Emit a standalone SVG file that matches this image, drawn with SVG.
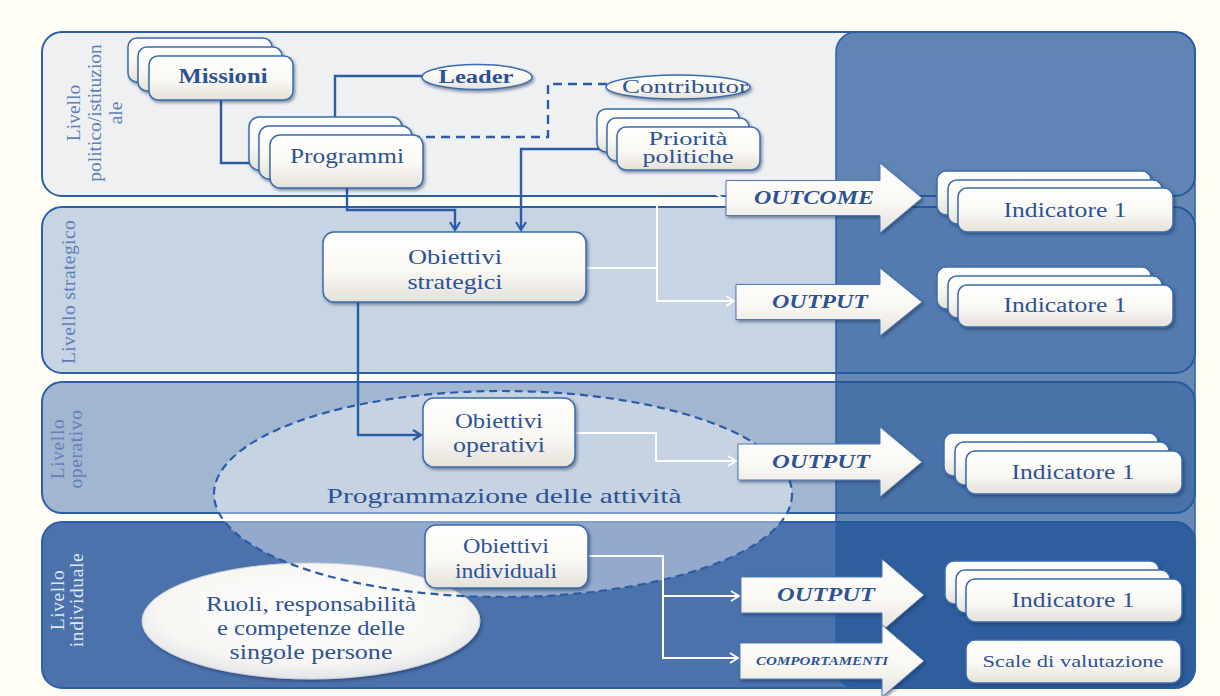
<svg xmlns="http://www.w3.org/2000/svg" width="1220" height="696" viewBox="0 0 1220 696">
  <defs>
    <linearGradient id="boxFill" x1="0" y1="0" x2="0" y2="1">
      <stop offset="0" stop-color="#ffffff"/>
      <stop offset="0.55" stop-color="#faf8f3"/>
      <stop offset="1" stop-color="#e4e1da"/>
    </linearGradient>
    <radialGradient id="ovalFill" cx="0.5" cy="0.42" r="0.62">
      <stop offset="0" stop-color="#ffffff"/>
      <stop offset="0.72" stop-color="#f7f6f3"/>
      <stop offset="1" stop-color="#dfe0e5"/>
    </radialGradient>
    <filter id="shadow" x="-10%" y="-20%" width="130%" height="170%">
      <feDropShadow dx="1.5" dy="2" stdDeviation="1.6" flood-color="#0e2650" flood-opacity="0.5"/>
    </filter>
    <marker id="ahBlue" viewBox="0 0 12 12" refX="10" refY="6" markerWidth="12" markerHeight="12" markerUnits="userSpaceOnUse" orient="auto">
      <path d="M2,1 L10,6 L2,11" fill="none" stroke="#2d5ca6" stroke-width="2.2"/>
    </marker>
    <marker id="ahWhite" viewBox="0 0 12 12" refX="10" refY="6" markerWidth="12" markerHeight="12" markerUnits="userSpaceOnUse" orient="auto">
      <path d="M2,1 L10,6 L2,11" fill="none" stroke="#ffffff" stroke-width="1.8"/>
    </marker>
  </defs>
  <style>
    .band { stroke:#2c5fa8; stroke-width:2 }
    .box { fill:url(#boxFill); stroke:#3a6cae; stroke-width:1.5; filter:url(#shadow) }
    .barrow { fill:url(#boxFill); stroke:#4d7ab5; stroke-width:1; filter:url(#shadow) }
    .oval { fill:url(#boxFill); stroke:#3a6cae; stroke-width:1.5; filter:url(#shadow) }
    .t { font-family:"Liberation Serif","Times New Roman",serif; fill:#2d5393; text-anchor:middle }
    .b { font-weight:bold }
    .bi { font-weight:bold; font-style:italic }
    .lbl { font-family:"Liberation Serif","Times New Roman",serif; font-size:19.5px; text-anchor:middle }
    .conn { fill:none; stroke:#2d5ca6; stroke-width:2.4 }
    .wconn { fill:none; stroke:#ffffff; stroke-width:2 }
  </style>

  <!-- page -->
  <rect x="0" y="0" width="1220" height="696" fill="#fffdf6"/>

  <!-- horizontal levels -->
  <g id="bands">
    <rect class="band" x="42" y="32" width="1153" height="164" rx="20" fill="#eff0f2"/>
    <rect class="band" x="42" y="207" width="1153" height="166" rx="20" fill="#c7d4e3"/>
    <rect class="band" x="42" y="382" width="1153" height="131" rx="20" fill="#a0b6d1"/>
    <rect class="band" x="42" y="522" width="1153" height="166" rx="20" fill="#4c72ab"/>
    <!-- measurement column -->
    <rect x="836" y="32" width="359" height="656" rx="20" fill="#235699" fill-opacity="0.7" stroke="#2c5fa8" stroke-width="1.5"/>
  </g>

  <!-- level labels -->
  <g id="labels">
    <g fill="#5b7fb6">
      <text class="lbl" transform="translate(80,113) rotate(-90)">Livello</text>
      <text class="lbl" transform="translate(101,113) rotate(-90)">politico/istituzion</text>
      <text class="lbl" transform="translate(122,113) rotate(-90)">ale</text>
      <text class="lbl" transform="translate(75,292) rotate(-90)" letter-spacing="0.4">Livello strategico</text>
    </g>
    <g fill="#5f82bb">
      <text class="lbl" transform="translate(64,449) rotate(-90)" letter-spacing="0.6">Livello</text>
      <text class="lbl" transform="translate(82,449) rotate(-90)" letter-spacing="0.6">operativo</text>
    </g>
    <g fill="#dde6f3">
      <text class="lbl" transform="translate(64,600) rotate(-90)" letter-spacing="0.6">Livello</text>
      <text class="lbl" transform="translate(83,600) rotate(-90)" letter-spacing="0.6">individuale</text>
    </g>
  </g>

  <!-- activity planning area (fill) -->
  <g id="programmazione-fill">
    <ellipse cx="503" cy="494" rx="289" ry="103" fill="#ffffff" fill-opacity="0.4"/>
  </g>

  <!-- roles -->
  <g id="ruoli">
    <ellipse cx="311" cy="621" rx="169" ry="58" fill="url(#ovalFill)" stroke="#c9d2df" stroke-width="1" filter="url(#shadow)"/>
    <text class="t" x="311" y="611" font-size="20" textLength="210" lengthAdjust="spacingAndGlyphs">Ruoli, responsabilità</text>
    <text class="t" x="311" y="635" font-size="20" textLength="188" lengthAdjust="spacingAndGlyphs">e competenze delle</text>
    <text class="t" x="311" y="659" font-size="20" textLength="163" lengthAdjust="spacingAndGlyphs">singole persone</text>
  </g>

  <!-- activity planning area (outline + title) -->
  <g id="programmazione">
    <ellipse cx="503" cy="494" rx="289" ry="103" fill="none" stroke="#2d5ca6" stroke-width="2.2" stroke-dasharray="8 5"/>
    <text class="t" x="504" y="503" font-size="22" textLength="355" lengthAdjust="spacingAndGlyphs">Programmazione delle attività</text>
  </g>

  <!-- connectors -->
  <g id="connectors">
    <path class="conn" d="M221,100 V163 H268" marker-end="url(#ahBlue)"/>
    <path class="conn" d="M422,76 H335 V125" marker-end="url(#ahBlue)"/>
    <path class="conn" d="M607,84 H548 V137 H393" stroke-dasharray="9 6" marker-end="url(#ahBlue)"/>
    <path class="conn" d="M347,188 V210 H455 V230" marker-end="url(#ahBlue)"/>
    <path class="conn" d="M617,149 H521 V230" marker-end="url(#ahBlue)"/>
    <path class="conn" d="M358,302 V435 H421" marker-end="url(#ahBlue)"/>
    <path class="wconn" d="M586,268 H657 V199 H724" marker-end="url(#ahWhite)"/>
    <path class="wconn" d="M657,268 V301 H734" marker-end="url(#ahWhite)"/>
    <path class="wconn" d="M575,433 H656 V461 H736" marker-end="url(#ahWhite)"/>
    <path class="wconn" d="M588,556 H663 V658 H738" marker-end="url(#ahWhite)"/>
    <path class="wconn" d="M663,596 H739" marker-end="url(#ahWhite)"/>
  </g>

  <!-- political level -->
  <g id="missioni">
    <rect class="box" x="128" y="38" width="144" height="44" rx="9"/>
    <rect class="box" x="138" y="47" width="144" height="44" rx="9"/>
    <rect class="box" x="149" y="56" width="144" height="44" rx="9"/>
    <text class="t b" x="223" y="83" font-size="20" textLength="89" lengthAdjust="spacingAndGlyphs">Missioni</text>
  </g>
  <g id="programmi">
    <rect class="box" x="249" y="117" width="153" height="53" rx="10"/>
    <rect class="box" x="259" y="126" width="153" height="53" rx="10"/>
    <rect class="box" x="270" y="135" width="153" height="53" rx="10"/>
    <text class="t" x="347" y="163" font-size="20" textLength="114" lengthAdjust="spacingAndGlyphs">Programmi</text>
  </g>
  <g id="leader">
    <ellipse class="oval" cx="477" cy="77" rx="55" ry="12.5"/>
    <text class="t b" x="476" y="83" font-size="18" textLength="75" lengthAdjust="spacingAndGlyphs">Leader</text>
  </g>
  <g id="contributor">
    <ellipse class="oval" cx="678" cy="87" rx="72" ry="12"/>
    <text class="t" x="685" y="93" font-size="19" textLength="126" lengthAdjust="spacingAndGlyphs">Contributor</text>
  </g>
  <g id="priorita">
    <rect class="box" x="597" y="109" width="142" height="43" rx="9"/>
    <rect class="box" x="607" y="118" width="142" height="43" rx="9"/>
    <rect class="box" x="617" y="127" width="143" height="43" rx="9"/>
    <text class="t" x="688" y="145" font-size="18" textLength="79" lengthAdjust="spacingAndGlyphs">Priorità</text>
    <text class="t" x="688" y="163" font-size="18" textLength="91" lengthAdjust="spacingAndGlyphs">politiche</text>
  </g>

  <!-- strategic level -->
  <g id="obiettivi-strategici">
    <rect class="box" x="323" y="232" width="263" height="70" rx="11"/>
    <text class="t" x="455" y="264" font-size="21" textLength="94" lengthAdjust="spacingAndGlyphs">Obiettivi</text>
    <text class="t" x="455" y="289" font-size="21" textLength="95" lengthAdjust="spacingAndGlyphs">strategici</text>
  </g>

  <!-- operational level -->
  <g id="obiettivi-operativi">
    <rect class="box" x="423" y="398" width="152" height="69" rx="11"/>
    <text class="t" x="499" y="428" font-size="20" textLength="88" lengthAdjust="spacingAndGlyphs">Obiettivi</text>
    <text class="t" x="499" y="452" font-size="20" textLength="92" lengthAdjust="spacingAndGlyphs">operativi</text>
  </g>

  <!-- individual level -->
  <g id="obiettivi-individuali">
    <rect class="box" x="425" y="525" width="163" height="63" rx="11"/>
    <text class="t" x="506" y="553" font-size="20" textLength="86" lengthAdjust="spacingAndGlyphs">Obiettivi</text>
    <text class="t" x="506" y="578" font-size="20" textLength="102" lengthAdjust="spacingAndGlyphs">individuali</text>
  </g>

  <!-- result arrows -->
  <g id="outcome">
    <path class="barrow" d="M726,180.5 H880 V163 L922,198 L880,233 V215.5 H726 Z"/>
    <text class="t bi" x="814" y="204" font-size="18" textLength="120" lengthAdjust="spacingAndGlyphs">OUTCOME</text>
  </g>
  <g id="output-strategico">
    <path class="barrow" d="M736,284.5 H880 V268 L922,302 L880,336 V319.5 H736 Z"/>
    <text class="t bi" x="820" y="308" font-size="18" textLength="96" lengthAdjust="spacingAndGlyphs">OUTPUT</text>
  </g>
  <g id="output-operativo">
    <path class="barrow" d="M738,444 H880 V427 L922,462 L880,497 V480 H738 Z"/>
    <text class="t bi" x="821" y="468" font-size="18" textLength="98" lengthAdjust="spacingAndGlyphs">OUTPUT</text>
  </g>
  <g id="output-individuale">
    <path class="barrow" d="M741,577 H882 V559 L924,595 L882,631 V613 H741 Z"/>
    <text class="t bi" x="826" y="601" font-size="18" textLength="98" lengthAdjust="spacingAndGlyphs">OUTPUT</text>
  </g>
  <g id="comportamenti">
    <path class="barrow" d="M740,643 H882 V625 L924,661 L882,697 V679 H740 Z"/>
    <text class="t bi" x="822" y="665" font-size="12" textLength="132" lengthAdjust="spacingAndGlyphs">COMPORTAMENTI</text>
  </g>

  <!-- indicators -->
  <g id="indicatore-outcome">
    <rect class="box" x="937" y="171" width="214" height="44" rx="9"/>
    <rect class="box" x="948" y="180" width="214" height="44" rx="9"/>
    <rect class="box" x="958" y="188" width="215" height="44" rx="9"/>
    <text class="t" x="1065" y="217" font-size="20" textLength="123" lengthAdjust="spacingAndGlyphs">Indicatore 1</text>
  </g>
  <g id="indicatore-strategico">
    <rect class="box" x="937" y="267" width="214" height="42" rx="9"/>
    <rect class="box" x="948" y="276" width="214" height="42" rx="9"/>
    <rect class="box" x="958" y="285" width="215" height="42" rx="9"/>
    <text class="t" x="1065" y="312" font-size="20" textLength="123" lengthAdjust="spacingAndGlyphs">Indicatore 1</text>
  </g>
  <g id="indicatore-operativo">
    <rect class="box" x="944" y="433" width="214" height="43" rx="9"/>
    <rect class="box" x="955" y="442" width="214" height="43" rx="9"/>
    <rect class="box" x="966" y="451" width="216" height="43" rx="9"/>
    <text class="t" x="1073" y="479" font-size="20" textLength="123" lengthAdjust="spacingAndGlyphs">Indicatore 1</text>
  </g>
  <g id="indicatore-individuale">
    <rect class="box" x="945" y="561" width="214" height="43" rx="9"/>
    <rect class="box" x="956" y="570" width="214" height="43" rx="9"/>
    <rect class="box" x="966" y="579" width="216" height="43" rx="9"/>
    <text class="t" x="1073" y="607" font-size="20" textLength="123" lengthAdjust="spacingAndGlyphs">Indicatore 1</text>
  </g>
  <g id="scale-valutazione">
    <rect class="box" x="966" y="640" width="215" height="43" rx="9"/>
    <text class="t" x="1073" y="667" font-size="17" textLength="181" lengthAdjust="spacingAndGlyphs">Scale di valutazione</text>
  </g>
</svg>
